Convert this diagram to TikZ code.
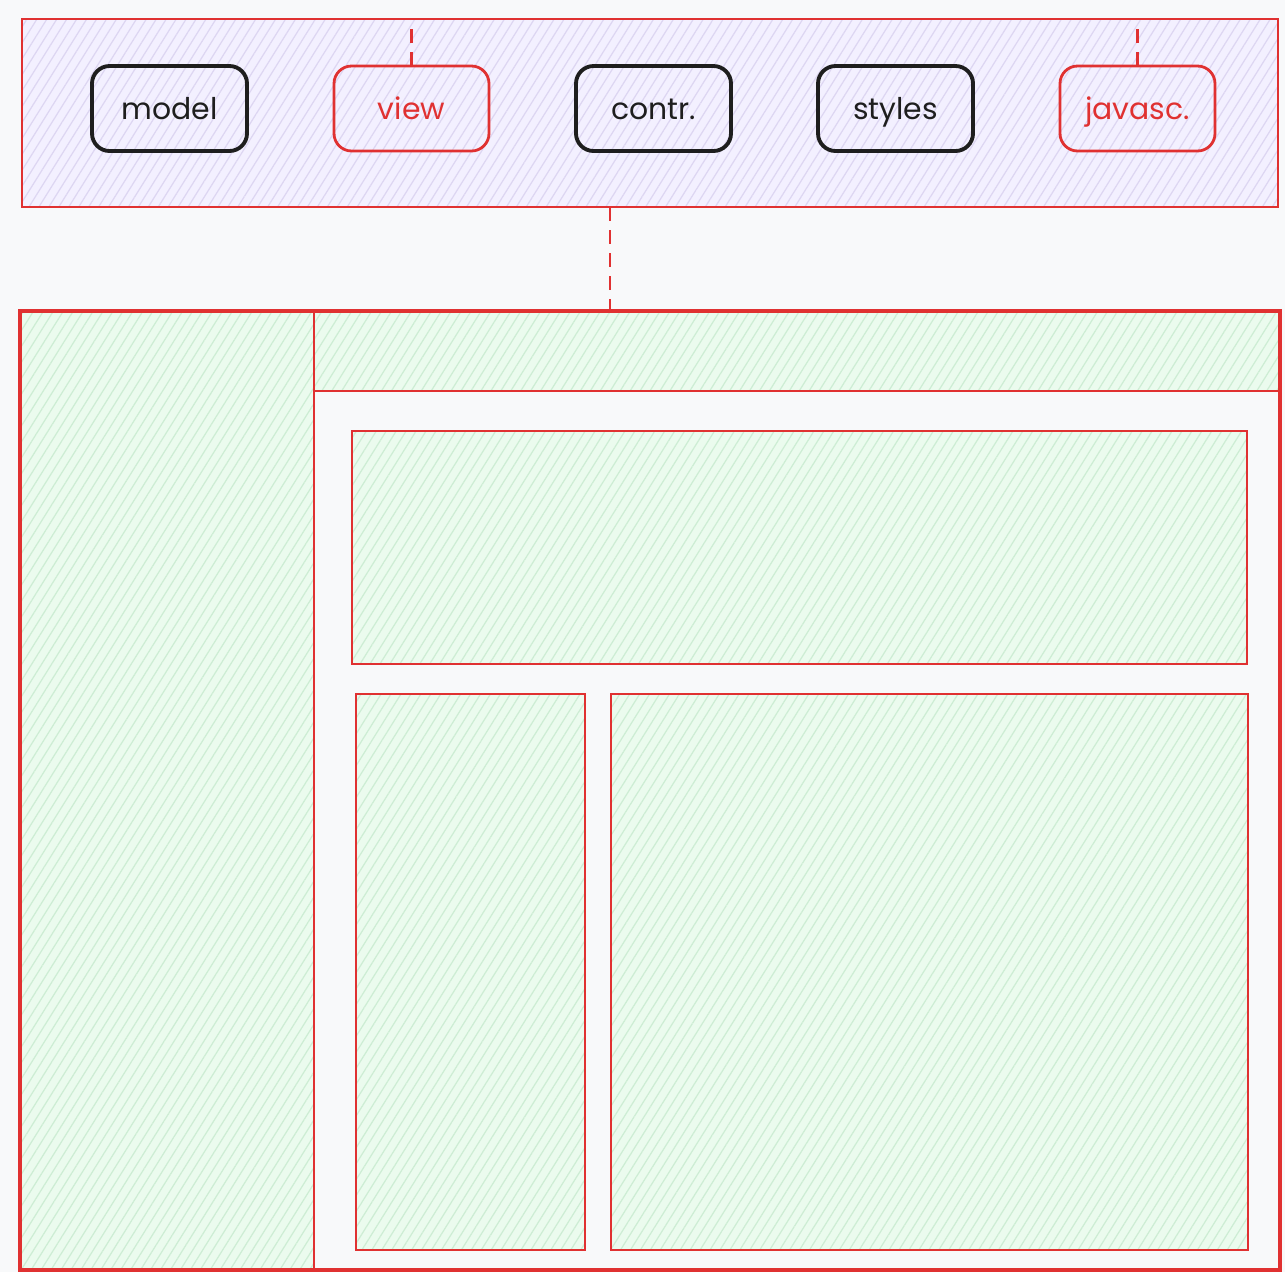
\documentclass[tikz,border=0pt]{standalone}
\usepackage{fontspec}
\setmainfont{Poppins}
\usepackage{xcolor}
\definecolor{SketchRed}{HTML}{E03131}
\definecolor{SoftViolet}{HTML}{F3F0FF}
\definecolor{SoftGreen}{HTML}{EBFBEE}
\definecolor{PaperGray}{HTML}{F8F9FA}
\definecolor{HatchViolet}{HTML}{DDD6F2}
\definecolor{HatchGreen}{HTML}{CDEDD4}
\definecolor{InkBlack}{HTML}{1E1E1E}
\usetikzlibrary{positioning,patterns.meta}

\begin{document}
\begin{tikzpicture}[node distance=0.87cm, every node/.style={font=\fontsize{8.5}{10}\selectfont, align=center, inner sep=0pt, outer sep=0pt},
    hatched/.style={pattern={Lines[angle=58,distance=2.4pt,line width=0.35pt]}},
    region/.style={draw=SketchRed, line width=0.8pt, hatched, pattern color=HatchGreen, preaction={fill=SoftGreen}},
    module/.style={draw=InkBlack, text=InkBlack, rounded corners=5pt, line width=1.1pt, minimum width=1.55cm, minimum height=0.85cm, text height=1.55ex, text depth=0.45ex},
    linked/.style={module, draw=SketchRed, text=SketchRed, line width=0.8pt},
    link/.style={draw=SketchRed, line width=0.8pt, dash pattern=on 0.14cm off 0.09cm}]
    % paper
    \fill[PaperGray] (0,0) rectangle (12.85,-12.72);
    \useasboundingbox (0,0) rectangle (12.85,-12.72);

    % top bar with the modules
    \node[draw=SketchRed, line width=0.8pt, hatched, pattern color=HatchViolet, preaction={fill=SoftViolet}, minimum width=12.56cm, minimum height=1.88cm] (bar) at (6.50,-1.13) {};
    \node[module] (model) at (1.695,-1.085) {model};
    \node[linked, right=of model] (view) {view};
    \node[module, right=of view] (contr) {contr.};
    \node[module, right=of contr] (styles) {styles};
    \node[linked, right=of styles] (javasc) {javasc.};

    % page layout
    \node[draw=SketchRed, line width=1.1pt, fill=PaperGray, anchor=north west, minimum width=12.60cm, minimum height=9.59cm] (frame) at (0.20,-3.11) {};
    \node[region, anchor=north west, minimum width=2.94cm, minimum height=9.59cm] (sidebar) at (frame.north west) {};
    \node[region, anchor=north west, minimum width=9.66cm, minimum height=0.80cm] (header) at (sidebar.north east) {};
    \node[region, anchor=north west, minimum width=8.95cm, minimum height=2.33cm] (banner) at (3.52,-4.31) {};
    \node[region, anchor=north west, minimum width=2.29cm, minimum height=5.56cm] (list) at (3.56,-6.94) {};
    \node[region, anchor=north west, minimum width=6.37cm, minimum height=5.56cm] (content) at (6.11,-6.94) {};
    \draw[draw=SketchRed, line width=1.1pt] (frame.north west) rectangle (frame.south east);

    % links
    \coordinate (hub) at (6.10,-3.11);
    \draw[link] (view.north) -- (view.north |- bar.north);
    \draw[link] (javasc.north) -- (javasc.north |- bar.north);
    \draw[link] (hub |- bar.south) -- (hub);
\end{tikzpicture}
\end{document}
